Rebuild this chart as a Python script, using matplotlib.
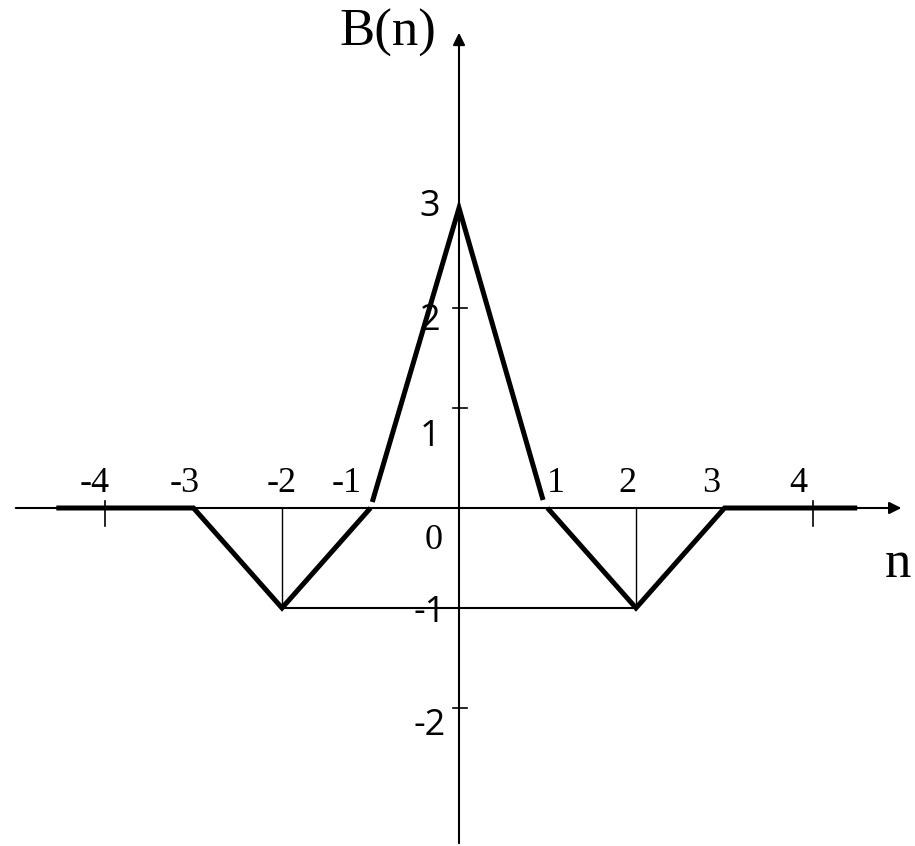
import matplotlib
matplotlib.use("Agg")
import matplotlib.pyplot as plt

# sequence B(n), drawn as piecewise segments (small gaps near n=+-1 as in the figure)
left_n = [-4.55, -3, -2, -1]
left_b = [0, 0, -1, 0]
peak_n = [-0.98, 0, 0.95]
peak_b = [0.06, 3, 0.08]
right_n = [1, 2, 3, 4.5]
right_b = [0, -1, 0, 0]

x_ticks = [-4, 4]
x_labels = ["-4", "-3", "-2", "-1", "1", "2", "3", "4"]
x_label_pos = [-4.12, -3.1, -2.0, -1.27, 1.1, 1.9, 2.85, 3.83]
y_ticks = [1, 2, -2]
y_labels = ["3", "2", "1", "-1", "-2"]
y_label_val = [3.01, 1.87, 0.71, -1.05, -2.18]

fig = plt.figure(figsize=(9.15, 8.46), dpi=100)
ax = fig.add_axes([0, 0, 1, 1])
ax.set_xlim(-459 / 88.5, (915 - 459) / 88.5)
ax.set_ylim(-(846 - 508) / 100, 508 / 100)
ax.axis("off")

# axes with arrows
ax.annotate("", xy=(5.03, 0), xytext=(-5.04, 0),
            arrowprops=dict(arrowstyle="-|>", lw=1.5, color="black", mutation_scale=18))
ax.annotate("", xy=(0, 4.78), xytext=(0, -3.38),
            arrowprops=dict(arrowstyle="-|>", lw=1.5, color="black", mutation_scale=18))

# helper lines
ax.plot([-2, -2], [0, -1], color="black", lw=1.0)
ax.plot([2, 2], [0, -1], color="black", lw=1.0)
ax.plot([-2, 2], [-1, -1], color="black", lw=1.5)

# ticks
for t in x_ticks:
    ax.plot([t, t], [0.07, -0.18], color="black", lw=1.2)
for t in y_ticks:
    ax.plot([-0.07, 0.09], [t, t], color="black", lw=1.2)

# the sequence
for xs, ys in [(left_n, left_b), (peak_n, peak_b), (right_n, right_b)]:
    ax.plot(xs, ys, color="black", lw=3.6, solid_capstyle="butt", solid_joinstyle="miter")

serif = "Liberation Serif"
for lab, xv in zip(x_labels, x_label_pos):
    ax.text(xv, 0.08, lab, ha="center", va="bottom", fontsize=26, family=serif)
ax.text(-0.29, -0.32, "0", ha="center", va="center", fontsize=26, family=serif)

for lab, yv in zip(y_labels, y_label_val):
    ax.text(-0.33, yv, lab, ha="center", va="center", fontsize=26, family="Open Sans")

ax.text(-0.8, 4.75, "B(n)", ha="center", va="center", fontsize=38, family=serif)
ax.text(4.96, -0.56, "n", ha="center", va="center", fontsize=38, family=serif)

fig.savefig("out.png", dpi=100)
